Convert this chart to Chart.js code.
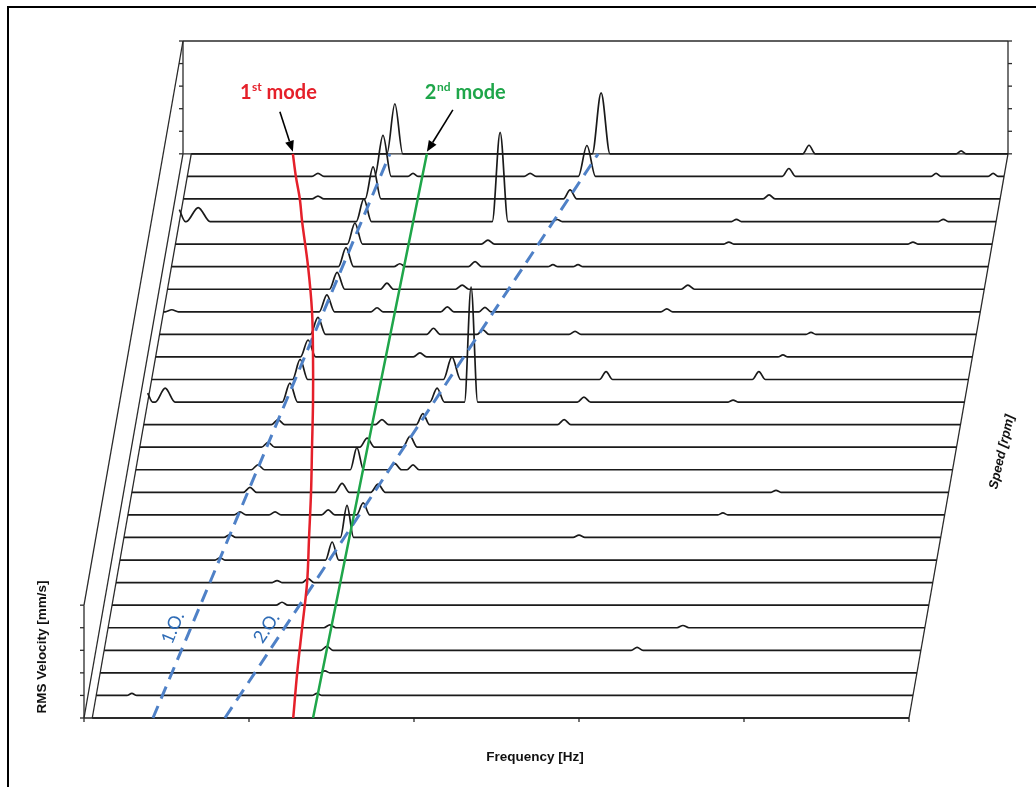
<!DOCTYPE html>
<html>
<head>
<meta charset="utf-8">
<script src="https://cdn.jsdelivr.net/npm/chart.js@4.4.1/dist/chart.umd.min.js"></script>
<style>
  html, body { margin: 0; padding: 0; background: #ffffff; }
  canvas { display: block; }
</style>
</head>
<body>
<canvas id="waterfall" width="1036" height="787"></canvas>
<script>
// ---- run-up speeds, one spectrum per speed (front row = lowest speed) ----
const speedsRpm = [1250, 1350, 1450, 1550, 1650, 1750, 1850, 1950, 2050, 2150, 2250, 2350, 2450,
                   2550, 2650, 2750, 2850, 2950, 3050, 3150, 3250, 3350, 3450, 3550, 3650, 3750];

// axis ticks
const freqTicksHz = [0, 50, 100, 150, 200, 250];
const ampTicks = [0, 1, 2, 3, 4, 5];

// spectral peaks per speed: [frequency Hz, RMS velocity mm/s, half base width Hz]
const peaks1250 = [];
const peaks1350 = [[13.3, 0.09, 1.5], [69.4, 0.09, 1.5]];
const peaks1450 = [[70.6, 0.09, 1.5]];
const peaks1550 = [[70.0, 0.18, 1.8], [164.0, 0.13, 1.8]];
const peaks1650 = [[69.7, 0.13, 1.8], [176.7, 0.10, 1.8]];
const peaks1750 = [[54.0, 0.13, 1.8]];
const peaks1850 = [[51.3, 0.09, 1.5], [60.7, 0.18, 1.8]];
const peaks1950 = [[32.8, 0.10, 1.5], [66.8, 0.80, 2.0]];
const peaks2050 = [[34.6, 0.13, 1.8], [70.1, 1.42, 2.0], [140.4, 0.10, 1.8]];
const peaks2150 = [[36.5, 0.13, 1.8], [47.1, 0.13, 1.8], [63.2, 0.22, 2.0], [73.8, 0.53, 2.0], [182.8, 0.09, 1.5]];
const peaks2250 = [[38.3, 0.22, 2.0], [66.2, 0.40, 2.2], [77.1, 0.36, 2.2], [197.7, 0.09, 1.5]];
const peaks2350 = [[39.5, 0.22, 2.0], [69.5, 0.98, 2.0], [81.0, 0.27, 2.0], [86.5, 0.22, 1.8]];
const peaks2450 = [[41.4, 0.22, 2.0], [71.4, 0.40, 2.2], [84.4, 0.48, 2.2]];
const peaks2550 = [[43.2, 0.22, 2.0], [74.7, 0.22, 2.0], [87.1, 0.49, 2.0], [129.9, 0.22, 2.0]];
const peaks2650 = [[2.5, 0.40, 1.5], [7.8, 0.62, 3.0], [45.6, 0.84, 2.3], [90.2, 0.62, 2.2],
                   [100.5, 5.10, 2.0], [134.7, 0.22, 2.0], [179.9, 0.09, 1.5]];
const peaks2750 = [[47.5, 0.89, 2.3], [93.5, 1.00, 2.6], [140.2, 0.35, 2.0], [186.5, 0.35, 2.0]];
const peaks2850 = [[48.7, 0.75, 2.3], [82.6, 0.18, 2.0], [192.6, 0.09, 1.5]];
const peaks2950 = [[50.5, 0.75, 2.3], [85.5, 0.27, 2.0], [100.5, 0.20, 1.8], [128.4, 0.13, 1.8], [199.9, 0.09, 1.5]];
const peaks3050 = [[5.0, 0.09, 2.0], [52.0, 0.75, 2.3], [67.2, 0.18, 1.8], [88.5, 0.22, 2.0], [99.9, 0.20, 1.8], [155.0, 0.13, 1.8]];
const peaks3150 = [[53.9, 0.75, 2.3], [69.0, 0.27, 2.0], [91.8, 0.18, 2.0], [160.2, 0.18, 2.0]];
const peaks3250 = [[55.4, 0.84, 2.3], [71.7, 0.13, 1.8], [94.5, 0.22, 2.0], [118.1, 0.09, 1.5], [125.7, 0.09, 1.5]];
const peaks3350 = [[56.9, 0.93, 2.3], [97.2, 0.18, 2.0], [170.2, 0.09, 1.5], [226.0, 0.09, 1.5]];
const peaks3450 = [[2.5, 0.53, 1.8], [8.2, 0.62, 3.6], [58.4, 1.00, 2.3], [99.7, 3.95, 2.4],
                   [117.0, 0.09, 1.5], [171.3, 0.10, 1.5], [234.0, 0.10, 1.5]];
const peaks3550 = [[43.3, 0.13, 1.8], [60.0, 1.42, 2.4], [119.7, 0.40, 2.0], [180.0, 0.18, 1.8]];
const peaks3650 = [[42.1, 0.13, 1.8], [61.8, 1.82, 2.5], [70.9, 0.13, 1.5], [106.4, 0.13, 1.8],
                   [123.6, 1.37, 2.6], [184.8, 0.35, 2.0], [229.4, 0.13, 1.5], [246.7, 0.13, 1.5]];
const peaks3750 = [[64.2, 2.22, 2.4], [126.7, 2.70, 2.7], [189.7, 0.38, 1.9], [235.8, 0.13, 1.5]];

const spectra = [peaks1250, peaks1350, peaks1450, peaks1550, peaks1650, peaks1750, peaks1850, peaks1950,
                 peaks2050, peaks2150, peaks2250, peaks2350, peaks2450, peaks2550, peaks2650, peaks2750,
                 peaks2850, peaks2950, peaks3050, peaks3150, peaks3250, peaks3350, peaks3450, peaks3550,
                 peaks3650, peaks3750];

// natural frequency tracks
const mode1Rpm = [1250, 1450, 1650, 1850, 2050, 2250, 2450, 2650, 2850, 3050, 3250, 3450, 3550, 3650, 3750];
const mode1Hz  = [63.4, 62.2, 61.3, 60.4, 58.6, 56.8, 54.7, 52.6, 50.2, 47.5, 43.9, 39.7, 37.8, 35.4, 33.3];
const mode2Rpm = [1250, 2550, 3750];
const mode2Hz  = [69.4, 71.7, 73.9];

// running-speed order lines
const orderRpm = [1250, 3750];
const order1Hz = [20.9, 62.7];
const order2Hz = [42.7, 125.8];

// ---- oblique waterfall projection ----
const F_START = 2.5;          // first frequency bin drawn in each spectrum
const F_END = freqTicksHz[freqTicksHz.length - 1];
const SKEW = 1.2;             // sideways shift (Hz) per speed step
const LAST_ROW = speedsRpm.length - 1;
const AMP_MAX = ampTicks[ampTicks.length - 1];
const rowOf = rpm => (rpm - speedsRpm[0]) / (speedsRpm[1] - speedsRpm[0]);
const project = (f, row, a) => ({ x: f + SKEW * row, y: row + a });

function tracePoints(row, peaks) {
  const pts = [];
  peaks.forEach(([f, a, w]) => { pts.push([f - w, 0], [f, a], [f + w, 0]); });
  pts.sort((p, q) => p[0] - q[0]);
  const kept = pts.filter(p => p[0] >= F_START && p[0] <= F_END);
  if (!kept.length || kept[0][0] > F_START) kept.unshift([F_START, 0]);
  if (kept[kept.length - 1][0] < F_END) kept.push([F_END, 0]);
  return kept.map(([f, a]) => project(f, row, a));
}

const trackPoints = (rpms, hz) => rpms.map((r, i) => project(hz[i], rowOf(r), 0));

const traceSets = spectra.map((peaks, row) => ({
  data: tracePoints(row, peaks),
  showLine: true, borderColor: '#1a1a1a', borderWidth: 1.7,
  cubicInterpolationMode: 'monotone',
  pointRadius: 0, order: 3, clip: false
}));

const BLUE = '#4f81c7', RED = '#e5202a', GREEN = '#1fa64a';

const lineSets = [
  { data: trackPoints(orderRpm, order1Hz), borderColor: BLUE, borderWidth: 3, borderDash: [13, 8], order: 2 },
  { data: trackPoints(orderRpm, order2Hz), borderColor: BLUE, borderWidth: 3, borderDash: [13, 8], order: 2 },
  { data: trackPoints(mode1Rpm, mode1Hz), borderColor: RED, borderWidth: 2.5, tension: 0.35, order: 1 },
  { data: trackPoints(mode2Rpm, mode2Hz), borderColor: GREEN, borderWidth: 2.5, order: 1 }
].map(d => Object.assign({ showLine: true, pointRadius: 0, clip: false }, d));

function seg(ctx, a, b) { ctx.beginPath(); ctx.moveTo(a[0], a[1]); ctx.lineTo(b[0], b[1]); ctx.stroke(); }

function arrow(ctx, x0, y0, x1, y1) {
  const ang = Math.atan2(y1 - y0, x1 - x0), L = 11, W = 4.5;
  const bx = x1 - L * Math.cos(ang), by = y1 - L * Math.sin(ang);
  ctx.beginPath(); ctx.moveTo(x0, y0); ctx.lineTo(bx, by); ctx.stroke();
  ctx.beginPath(); ctx.moveTo(x1, y1);
  ctx.lineTo(bx + W * Math.sin(ang), by - W * Math.cos(ang));
  ctx.lineTo(bx - W * Math.sin(ang), by + W * Math.cos(ang));
  ctx.closePath(); ctx.fill();
}

function modeLabel(ctx, x, y, num, sup, rest, color) {
  ctx.fillStyle = color; ctx.textAlign = 'left'; ctx.textBaseline = 'alphabetic';
  ctx.font = 'bold 20px Lato';
  ctx.fillText(num, x, y);
  let w = ctx.measureText(num).width + 0.5;
  ctx.font = 'bold 12px Lato';
  ctx.fillText(sup, x + w, y - 8);
  w += ctx.measureText(sup).width;
  ctx.font = 'bold 20px Lato';
  ctx.fillText(rest, x + w, y);
}

function rotatedText(ctx, text, x, y, ang, font, color) {
  ctx.save();
  ctx.translate(x, y); ctx.rotate(ang);
  ctx.font = font; ctx.fillStyle = color;
  ctx.textAlign = 'center'; ctx.textBaseline = 'middle';
  ctx.fillText(text, 0, 0);
  ctx.restore();
}

const waterfallFrame = {
  id: 'waterfallFrame',
  beforeDatasetsDraw(chart) {
    const { ctx, scales: { x, y } } = chart;
    const P = (f, row, a = 0) => [x.getPixelForValue(f + SKEW * row), y.getPixelForValue(row + a)];
    ctx.save();
    // outer border
    ctx.strokeStyle = '#000'; ctx.lineWidth = 2;
    ctx.strokeRect(8, 7, 1200, 900);

    ctx.strokeStyle = '#2a2a2a'; ctx.lineWidth = 1.3;
    // back wall
    seg(ctx, P(0, LAST_ROW, AMP_MAX), P(F_END, LAST_ROW, AMP_MAX));
    seg(ctx, P(0, LAST_ROW, 0), P(0, LAST_ROW, AMP_MAX));
    seg(ctx, P(F_END, LAST_ROW, 0), P(F_END, LAST_ROW, AMP_MAX));
    seg(ctx, P(0, LAST_ROW, 0), P(F_END, LAST_ROW, 0));
    // front amplitude axis and its link to the back wall
    seg(ctx, P(0, 0, 0), P(0, 0, AMP_MAX));
    seg(ctx, P(0, LAST_ROW, AMP_MAX), P(0, 0, AMP_MAX));
    // floor edges
    seg(ctx, P(0, LAST_ROW), P(0, 0));
    seg(ctx, P(F_START, LAST_ROW), P(F_START, 0));
    seg(ctx, P(F_END, LAST_ROW), P(F_END, 0));
    seg(ctx, P(0, 0), P(F_END, 0));
    // ticks
    ampTicks.forEach(t => {
      const l = P(0, LAST_ROW, t), r = P(F_END, LAST_ROW, t), fr = P(0, 0, t);
      seg(ctx, l, [l[0] - 4, l[1]]);
      seg(ctx, r, [r[0] + 4, r[1]]);
      seg(ctx, fr, [fr[0] - 4, fr[1]]);
    });
    freqTicksHz.forEach(f => { const p = P(f, 0); seg(ctx, p, [p[0], p[1] + 4]); });
    ctx.restore();
  },
  afterDatasetsDraw(chart) {
    const { ctx, scales: { x, y } } = chart;
    const P = (f, row, a = 0) => [x.getPixelForValue(f + SKEW * row), y.getPixelForValue(row + a)];
    ctx.save();

    // mode call-outs
    const r1 = P(mode1Hz[mode1Hz.length - 1], rowOf(mode1Rpm[mode1Rpm.length - 1]));
    const r2 = P(mode2Hz[mode2Hz.length - 1], rowOf(mode2Rpm[mode2Rpm.length - 1]));
    ctx.strokeStyle = '#000'; ctx.fillStyle = '#000'; ctx.lineWidth = 1.6;
    arrow(ctx, r1[0] - 13, r1[1] - 42, r1[0], r1[1] - 2);
    arrow(ctx, r2[0] + 26, r2[1] - 44, r2[0], r2[1] - 2);
    modeLabel(ctx, r1[0] - 53, r1[1] - 55, '1', 'st', ' mode', RED);
    modeLabel(ctx, r2[0] - 2, r2[1] - 55, '2', 'nd', ' mode', GREEN);

    // order labels along the dashed lines
    [[order1Hz, '1.O.'], [order2Hz, '2.O.']].forEach(([hz, txt]) => {
      const a = P(hz[0], rowOf(orderRpm[0])), b = P(hz[1], rowOf(orderRpm[1]));
      const ang = Math.atan2(b[1] - a[1], b[0] - a[0]);
      const t = 4 / LAST_ROW;
      const cx = a[0] + (b[0] - a[0]) * t - 18, cy = a[1] + (b[1] - a[1]) * t;
      rotatedText(ctx, txt, cx, cy, ang, '18px Lato', '#2f6cb6');
    });

    // axis titles
    const ttl = 'bold 13.5px "Liberation Sans", Arial, sans-serif';
    rotatedText(ctx, 'RMS Velocity [mm/s]', 42, 647, -Math.PI / 2, ttl, '#111');
    rotatedText(ctx, 'Frequency [Hz]', 535, 757, 0, ttl, '#111');
    rotatedText(ctx, 'Speed [rpm]', 1002, 452, -77 * Math.PI / 180,
                'italic bold 13px "Liberation Sans", Arial, sans-serif', '#111');
    ctx.restore();
  }
};

new Chart(document.getElementById('waterfall'), {
  type: 'scatter',
  data: { datasets: traceSets.concat(lineSets) },
  options: {
    responsive: false,
    animation: false,
    devicePixelRatio: 1,
    layout: { padding: { left: 84, right: 28, top: 41, bottom: 69 } },
    scales: {
      x: { type: 'linear', min: 0, max: F_END + SKEW * LAST_ROW, display: false },
      y: { type: 'linear', min: 0, max: LAST_ROW + AMP_MAX, display: false }
    },
    plugins: { legend: { display: false }, tooltip: { enabled: false } },
    elements: { line: { borderCapStyle: 'butt' } }
  },
  plugins: [waterfallFrame]
});
</script>
</body>
</html>
